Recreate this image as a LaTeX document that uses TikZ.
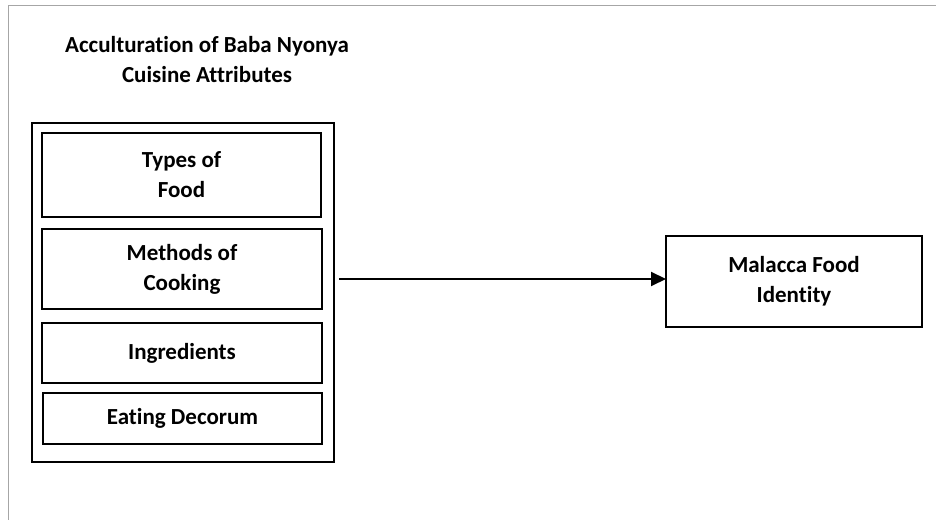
\documentclass[tikz,border=0pt]{standalone}
\usepackage{fontspec}
\setmainfont[Ligatures={NoCommon,NoRequired,NoContextual}]{Carlito}
\usetikzlibrary{arrows.meta}
\begin{document}
\begin{tikzpicture}[x=1bp,y=-1bp,
  lbl/.style={font=\fontsize{23bp}{30bp}\selectfont\bfseries, align=center, inner sep=0pt},
  inbox/.style={draw=black, line width=2bp, rectangle},
]
\useasboundingbox (0,0) rectangle (936,520);
\draw[gray!70, line width=1bp] (8.5,6) rectangle (940,530);
% outer container
\node[inbox, minimum width=302bp, minimum height=339bp] (outer) at (183,292.5) {};
\coordinate (outerE) at (339,279);
% title
\node[lbl] (title) at (207,60) {Acculturation of Baba Nyonya\\Cuisine Attributes};
% inner boxes
\node[inbox, minimum width=279bp, minimum height=84bp] (types) at (181.5,175) {};
\node[lbl] at (types) {Types of\\Food};
\node[inbox, minimum width=280bp, minimum height=80bp] (methods) at (182,269) {};
\node[lbl] at (methods) {Methods of\\Cooking};
\node[inbox, minimum width=280bp, minimum height=60bp] (ingr) at (182,353) {};
\node[lbl] at (ingr) {Ingredients};
\node[inbox, minimum width=279bp, minimum height=51bp] (eat) at (182.5,418.5) {};
\node[lbl] at (eat) {Eating Decorum};
% right box
\node[inbox, minimum width=256bp, minimum height=91bp] (mal) at (794,281.5) {};
\node[lbl] at (mal) {Malacca Food\\Identity};
\coordinate (malW) at (666,279);
\draw[line width=2bp, -{Triangle[length=15bp,width=14bp]}] (outerE) -- (malW);
\end{tikzpicture}
\end{document}
